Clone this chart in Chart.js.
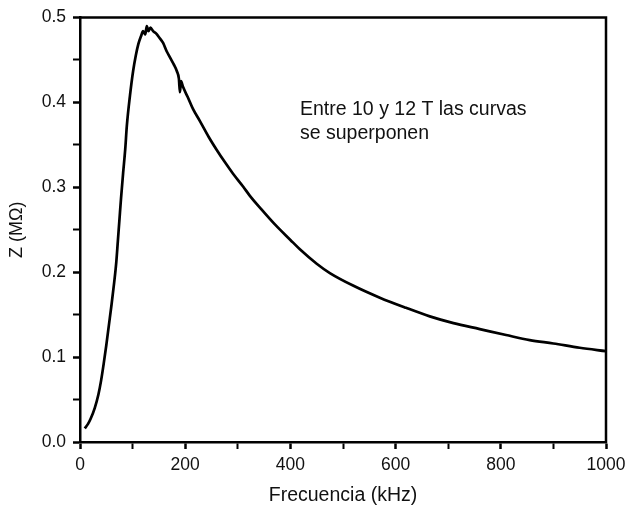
<html>
  <head>
    <title>Z vs Frecuencia</title>
    <script src="https://cdn.jsdelivr.net/npm/chart.js@4.4.1/dist/chart.umd.min.js"></script>
    <style>
      body { margin: 0; background: #fff; }
      #wrap { width: 628px; height: 510px; position: relative; }
    </style>
  </head>
  <body>
    <div id="wrap"><canvas id="zChart"></canvas></div>
    <script>
      // frequency (kHz) and impedance (MOhm)
      var freq = [9, 15, 20, 28, 35, 40, 45, 50, 55, 60, 65, 69, 72, 75, 78, 82, 86, 89, 95, 101, 106, 111,
                  116, 120, 124, 127, 130, 134, 139, 145, 150, 158, 165, 171, 178, 184, 188, 190, 192,
                  196, 205, 215, 228, 245, 260, 275, 291, 310, 323, 345, 371, 400, 418, 450, 475, 520,
                  570, 620, 665, 710, 760, 810, 855, 900, 950, 1000];
      var zVals = [0.016, 0.021, 0.027, 0.040, 0.056, 0.072, 0.092, 0.114, 0.138, 0.162, 0.188, 0.212,
                   0.237, 0.262, 0.287, 0.317, 0.345, 0.372, 0.408, 0.437, 0.455, 0.469, 0.478, 0.484,
                   0.480, 0.490, 0.484, 0.488, 0.484, 0.481, 0.477, 0.470, 0.460, 0.453, 0.445, 0.437,
                   0.428, 0.412, 0.425, 0.418, 0.406, 0.392, 0.378, 0.359, 0.344, 0.330, 0.316, 0.301,
                   0.290, 0.274, 0.256, 0.238, 0.227, 0.210, 0.199, 0.184, 0.170, 0.158, 0.148, 0.140,
                   0.133, 0.126, 0.120, 0.116, 0.111, 0.107];
      var xTickLabels = ['0', '200', '400', '600', '800', '1000'];
      var yTickLabels = ['0.0', '0.1', '0.2', '0.3', '0.4', '0.5'];
      var noteLines = ['Entre 10 y 12 T las curvas', 'se superponen'];

      var pts = freq.map(function (f, i) { return { x: f, y: zVals[i] }; });
      var FONT = 'Liberation Sans, Arial, sans-serif';

      // top + right frame lines and the note text
      var frameNote = {
        id: 'frameNote',
        afterDraw: function (chart) {
          var a = chart.chartArea, ctx = chart.ctx;
          ctx.save();
          ctx.strokeStyle = '#000';
          ctx.lineWidth = 2.5;
          ctx.beginPath();
          ctx.moveTo(a.left - 1, a.top);
          ctx.lineTo(a.right, a.top);
          ctx.lineTo(a.right, a.bottom + 1);
          ctx.stroke();
          ctx.fillStyle = '#111';
          ctx.font = '19.5px ' + FONT;
          ctx.textBaseline = 'alphabetic';
          ctx.fillText(noteLines[0], 300, 115);
          ctx.fillText(noteLines[1], 300, 139);
          ctx.restore();
        }
      };

      new Chart(document.getElementById('zChart'), {
        type: 'line',
        data: {
          datasets: [{
            data: pts,
            borderColor: '#000',
            borderWidth: 2.7,
            pointRadius: 0,
            fill: false,
            cubicInterpolationMode: 'monotone'
          }]
        },
        options: {
          responsive: true,
          maintainAspectRatio: false,
          animation: false,
          layout: { padding: { top: 13, right: 22, left: 0, bottom: 0 } },
          plugins: { legend: { display: false }, tooltip: { enabled: false } },
          scales: {
            x: {
              type: 'linear',
              min: 0, max: 1000,
              afterFit: function (s) { s.height = 68; s.paddingRight = 0; },
              border: { color: '#000', width: 2.5 },
              grid: {
                drawOnChartArea: false, drawTicks: true, tickLength: 7,
                tickColor: '#000',
                tickWidth: function (c) { return c.tick && c.tick.value % 200 === 0 ? 2.5 : 2; }
              },
              ticks: {
                stepSize: 100, autoSkip: false, maxRotation: 0, padding: 6,
                color: '#111', font: { family: FONT, size: 17.5 },
                callback: function (v) { return v % 200 === 0 ? xTickLabels[v / 200] : ''; }
              },
              title: {
                display: true, text: 'Frecuencia (kHz)', color: '#111',
                font: { family: FONT, size: 19.5 }, padding: { top: 0, bottom: 3 }
              }
            },
            y: {
              min: 0, max: 0.5,
              afterFit: function (s) { s.width = 80; },
              border: { color: '#000', width: 2.5 },
              grid: {
                drawOnChartArea: false, drawTicks: true, tickLength: 7,
                tickColor: '#000',
                tickWidth: function (c) { return c.tick && Math.round(c.tick.value * 100) % 10 === 0 ? 2.5 : 2; }
              },
              ticks: {
                stepSize: 0.05, autoSkip: false, padding: 7,
                color: '#111', font: { family: FONT, size: 17.5 },
                callback: function (v) {
                  var k = Math.round(v * 100);
                  return k % 10 === 0 ? yTickLabels[k / 10] : '';
                }
              },
              title: {
                display: true, text: 'Z (M\u03A9)', color: '#111',
                font: { family: FONT, size: 18 }, padding: { top: 6, bottom: 0 }
              }
            }
          }
        },
        plugins: [frameNote]
      });
    </script>
  </body>
</html>
